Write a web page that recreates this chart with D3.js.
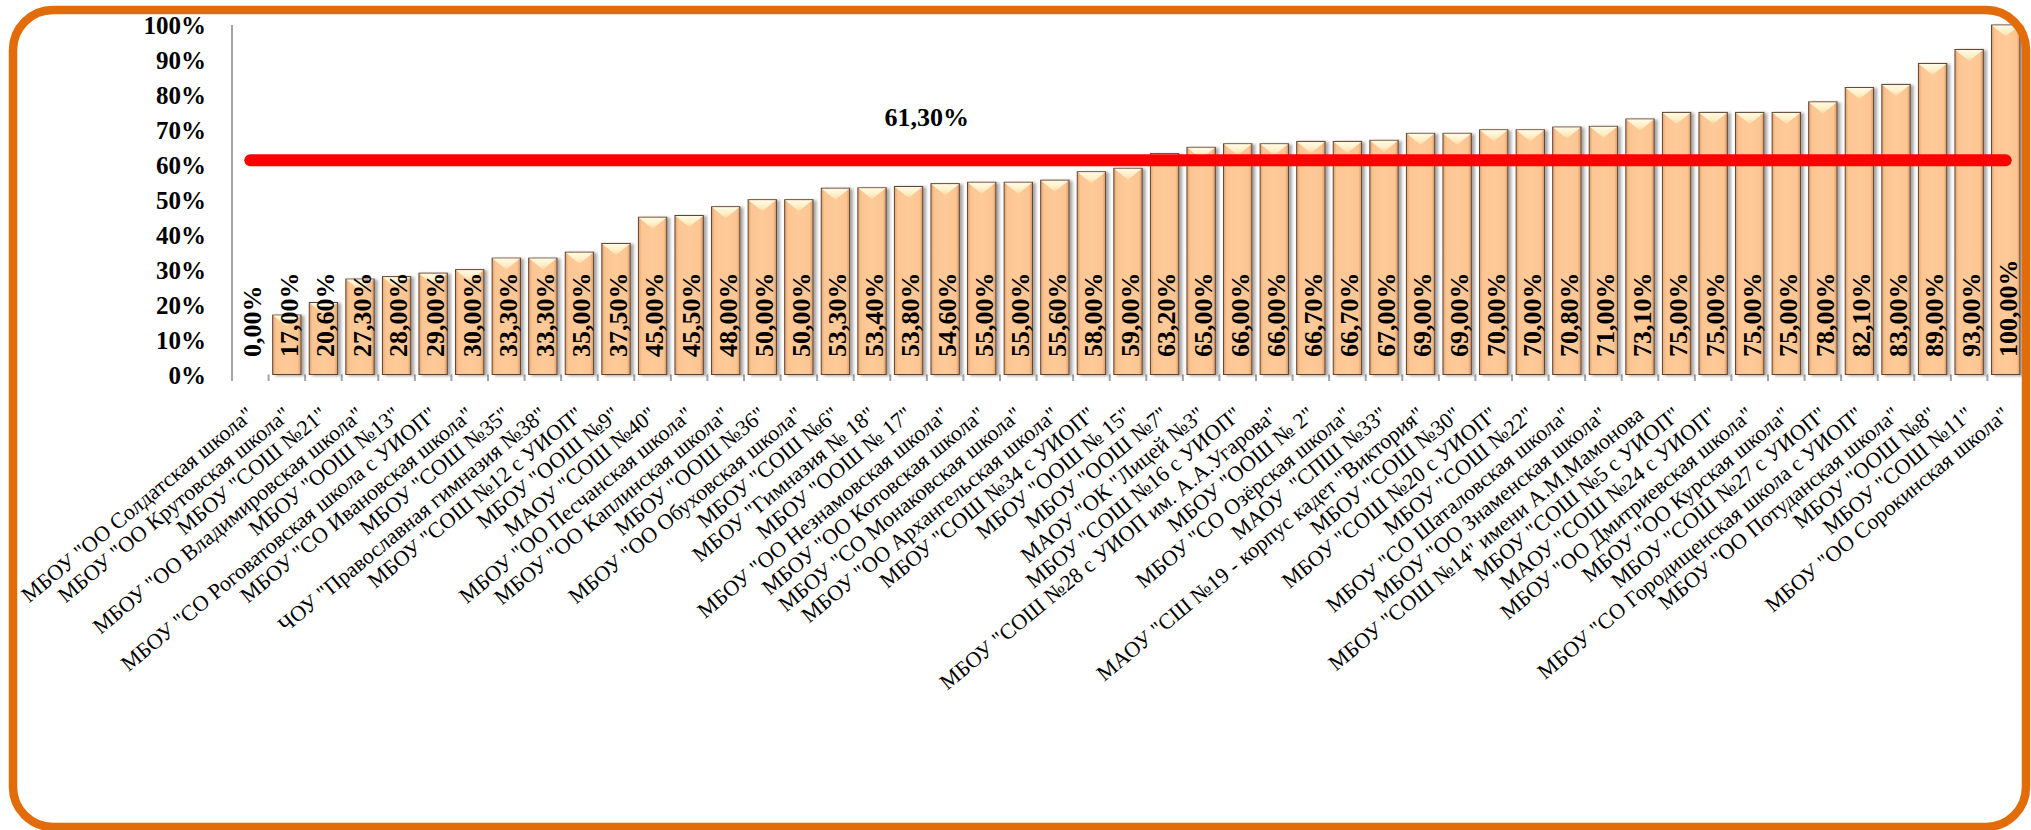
<!DOCTYPE html>
<html>
<head>
<meta charset="utf-8">
<script src="https://cdn.jsdelivr.net/npm/d3@7"></script>
<style>
  html, body { margin: 0; padding: 0; background: #ffffff; }
  svg { display: block; }
  .cat { font-family: "Liberation Serif", "Times New Roman", serif; font-size: 22px; fill: #000; white-space: pre; }
  .ytick { font-family: "Liberation Serif", "Times New Roman", serif; font-size: 25px; font-weight: bold; fill: #000; }
  .val { font-family: "Liberation Serif", "Times New Roman", serif; font-size: 26px; font-weight: bold; fill: #000; }
  .avg { font-family: "Liberation Serif", "Times New Roman", serif; font-size: 26px; font-weight: bold; fill: #000; }
</style>
</head>
<body>
<svg id="chart" width="2031" height="830"></svg>
<script>
const categories = [
  'МБОУ "ОО Солдатская школа"',
  'МБОУ "ОО Крутовская школа"',
  'МБОУ "СОШ №21"',
  'МБОУ "ОО Владимировская школа"',
  'МБОУ "ООШ №13"',
  'МБОУ "СО Роговатовская школа с УИОП"',
  'МБОУ "СО Ивановская школа"',
  'МБОУ "СОШ №35"',
  'ЧОУ "Православная гимназия №38"',
  'МБОУ "СОШ №12 с УИОП"',
  'МБОУ "ООШ №9"',
  'МАОУ "СОШ №40"',
  'МБОУ "ОО Песчанская школа"',
  'МБОУ "ОО Каплинская школа"',
  'МБОУ "ООШ №36"',
  'МБОУ "ОО Обуховская школа"',
  'МБОУ "СОШ №6"',
  'МБОУ "Гимназия № 18"',
  'МБОУ "ООШ № 17"',
  'МБОУ "ОО Незнамовская школа"',
  'МБОУ "ОО Котовская школа"',
  'МБОУ "СО Монаковская школа"',
  'МБОУ "ОО Архангельская школа"',
  'МБОУ "СОШ №34 с УИОП"',
  'МБОУ "ООШ № 15"',
  'МБОУ "ООШ №7"',
  'МАОУ "ОК "Лицей №3"',
  'МБОУ "СОШ №16 с УИОП"',
  'МБОУ "СОШ №28 с УИОП им. А.А.Угарова"',
  'МБОУ "ООШ № 2"',
  'МБОУ "СО Озёрская школа"',
  'МАОУ  "СПШ №33"',
  'МАОУ "СШ №19 - корпус кадет "Виктория"',
  'МБОУ "СОШ №30"',
  'МБОУ "СОШ №20 с УИОП"',
  'МБОУ "СОШ №22"',
  'МБОУ "СО Шаталовская школа"',
  'МБОУ "ОО Знаменская школа"',
  'МБОУ "СОШ №14" имени А.М.Мамонова',
  'МБОУ "СОШ №5 с УИОП"',
  'МАОУ "СОШ №24 с УИОП"',
  'МБОУ "ОО Дмитриевская школа"',
  'МБОУ "ОО Курская школа"',
  'МБОУ "СОШ №27 с УИОП"',
  'МБОУ "СО Городищенская школа с УИОП"',
  'МБОУ "ОО Потуданская школа"',
  'МБОУ "ООШ №8"',
  'МБОУ "СОШ №11"',
  'МБОУ "ОО Сорокинская школа"'
];
const values = [
  0.0, 17.0, 20.6, 27.3, 28.0, 29.0, 30.0, 33.3, 33.3, 35.0,
  37.5, 45.0, 45.5, 48.0, 50.0, 50.0, 53.3, 53.4, 53.8, 54.6,
  55.0, 55.0, 55.6, 58.0, 59.0, 63.2, 65.0, 66.0, 66.0, 66.7,
  66.7, 67.0, 69.0, 69.0, 70.0, 70.0, 70.8, 71.0, 73.1, 75.0,
  75.0, 75.0, 75.0, 78.0, 82.1, 83.0, 89.0, 93.0, 100.0
];
const averageValue = 61.3;
const averageLabel = "61,30%";
const averageLabelIndex = 19;
const yTicks = [0, 10, 20, 30, 40, 50, 60, 70, 80, 90, 100];
const yTickLabels = ["0%", "10%", "20%", "30%", "40%", "50%", "60%", "70%", "80%", "90%", "100%"];

const data = categories.map((c, i) => ({ c, v: values[i] }));
const fmtVal = v => d3.format(".2f")(v).replace(".", ",") + "%";

const svg = d3.select("#chart");
const defs = svg.append("defs");

const bg = defs.append("linearGradient").attr("id", "barGrad").attr("x1", "0").attr("x2", "1").attr("y1", "0").attr("y2", "0");
[["0%", "#e3a272"], ["12%", "#fcc693"], ["50%", "#fdca98"], ["88%", "#fcc693"], ["100%", "#d99969"]]
  .forEach(([o, c]) => bg.append("stop").attr("offset", o).attr("stop-color", c));
const tg = defs.append("linearGradient").attr("id", "topGrad").attr("x1", "0").attr("x2", "0").attr("y1", "0").attr("y2", "1");
[["0%", "#fffbe6"], ["60%", "#ffeec4"], ["100%", "#fdd4a4"]]
  .forEach(([o, c]) => tg.append("stop").attr("offset", o).attr("stop-color", c));

const sh = defs.append("filter").attr("id", "shadow").attr("x", "-20%").attr("y", "-5%").attr("width", "150%").attr("height", "115%");
sh.append("feDropShadow").attr("dx", 3).attr("dy", 1).attr("stdDeviation", 1.6).attr("flood-color", "#000").attr("flood-opacity", 0.35);
const gsh = defs.append("filter").attr("id", "gshadow").attr("x", "-1%").attr("y", "-200%").attr("width", "102%").attr("height", "500%");
gsh.append("feDropShadow").attr("dx", 0).attr("dy", 1.5).attr("stdDeviation", 1).attr("flood-color", "#000").attr("flood-opacity", 0.25);

const x = d3.scaleBand().domain(categories).range([232, 2024]).padding(0);
const y = d3.scaleLinear().domain([0, 100]).range([374.5, 25]);
const bw = x.bandwidth();

svg.append("g").selectAll("line").data(yTicks).join("line")
  .attr("x1", 222).attr("x2", 2024)
  .attr("y1", d => y(d)).attr("y2", d => y(d))
  .attr("stroke", "#a3a3a3").attr("stroke-width", 2)
  .attr("filter", "url(#gshadow)");

svg.append("line").attr("x1", 232).attr("x2", 232).attr("y1", y(100)).attr("y2", y(0) + 6)
  .attr("stroke", "#a3a3a3").attr("stroke-width", 2);

const boundaries = categories.map(c => x(c)).concat([x(categories[categories.length - 1]) + bw]);
svg.append("g").selectAll("line").data(boundaries).join("line")
  .attr("x1", d => d).attr("x2", d => d)
  .attr("y1", y(0)).attr("y2", y(0) + 6.5)
  .attr("stroke", "#a3a3a3").attr("stroke-width", 2);

svg.append("g").selectAll("text").data(yTicks).join("text")
  .attr("class", "ytick")
  .attr("x", 206).attr("y", d => y(d)).attr("dy", "0.36em")
  .attr("text-anchor", "end")
  .text((d, i) => yTickLabels[i]);

const barW = bw * 0.775;
const bars = svg.append("g").selectAll("g").data(data.filter(d => d.v > 0)).join("g")
  .attr("filter", "url(#shadow)");
bars.append("rect")
  .attr("x", d => x(d.c) + (bw - barW) / 2)
  .attr("y", d => y(d.v))
  .attr("width", barW)
  .attr("height", d => y(0) - y(d.v))
  .attr("fill", "url(#barGrad)")
  .attr("stroke", "#5e4330").attr("stroke-width", 1);
bars.append("polygon")
  .attr("points", d => {
    const x0 = x(d.c) + (bw - barW) / 2 + 0.5, x1 = x0 + barW - 1, yt = y(d.v) + 0.5;
    const depth = Math.min(11, y(0) - y(d.v));
    return `${x0},${yt} ${x1},${yt} ${(x0 + x1) / 2},${yt + depth}`;
  })
  .attr("fill", "url(#topGrad)");

svg.append("g").selectAll("text").data(data).join("text")
  .attr("class", "val")
  .attr("transform", d => `translate(${x(d.c) + bw / 2},357) rotate(-90)`)
  .attr("dy", "0.42em")
  .text(d => fmtVal(d.v));

const line = d3.line().x(d => x(d.c) + bw / 2).y(() => y(averageValue));
svg.append("path").datum(data).attr("d", line)
  .attr("fill", "none").attr("stroke", "#ff0000").attr("stroke-width", 12).attr("stroke-linecap", "round");
svg.append("text").attr("class", "avg")
  .attr("x", x(categories[averageLabelIndex])).attr("y", y(averageValue) - 34.5)
  .attr("text-anchor", "middle").text(averageLabel);

svg.append("g").selectAll("text").data(categories).join("text")
  .attr("class", "cat")
  .attr("transform", d => `translate(${x(d) + bw / 2 + 5},417) rotate(-39.5)`)
  .attr("text-anchor", "end")
  .text(d => d);

svg.append("rect").attr("x", 13).attr("y", 10).attr("width", 2013).attr("height", 817)
  .attr("rx", 40).attr("ry", 40)
  .attr("fill", "none").attr("stroke", "#e36c0a").attr("stroke-width", 8.5);
</script>
</body>
</html>
